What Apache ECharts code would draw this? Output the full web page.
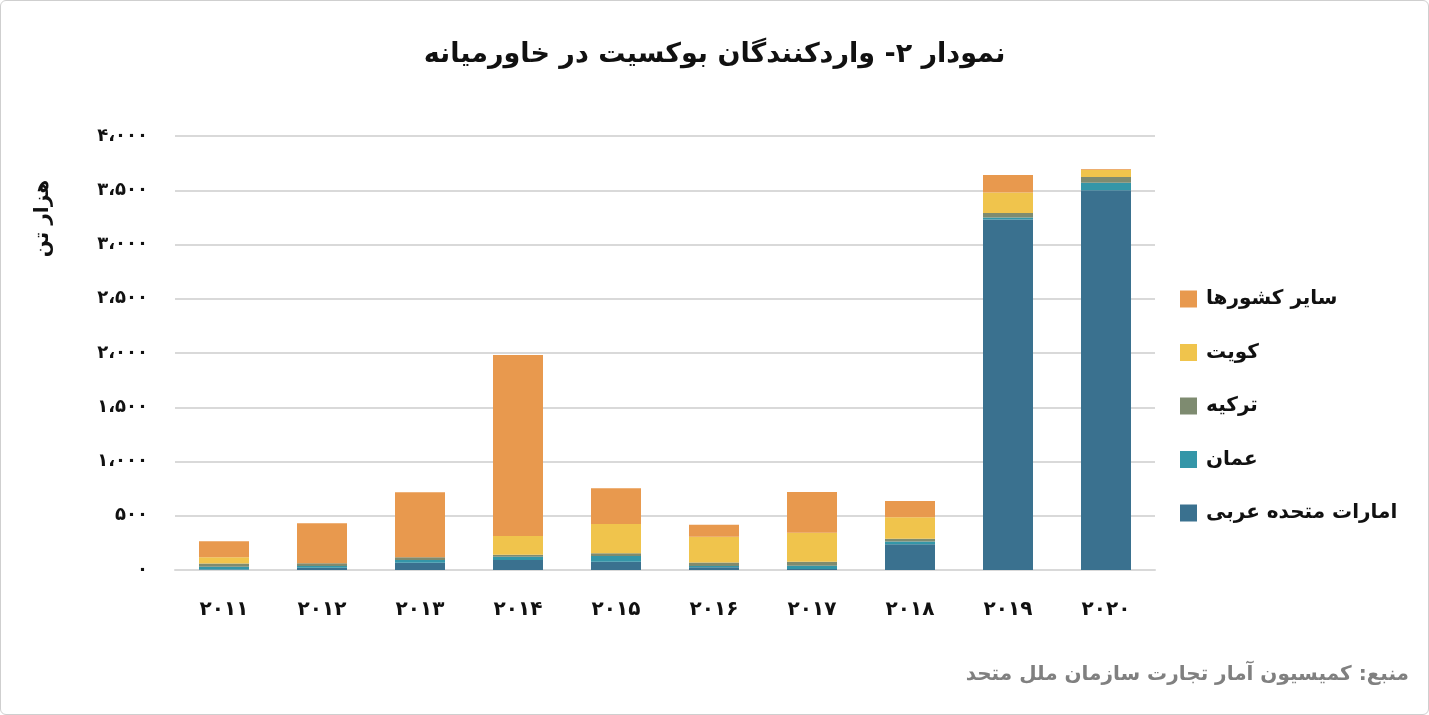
<!DOCTYPE html>
<html>
<head>
<meta charset="utf-8">
<script src="https://cdn.jsdelivr.net/npm/echarts@6/dist/echarts.min.js"></script>
<style>
html,body{margin:0;padding:0;background:#fff;}
#wrap{position:absolute;left:0;top:0;width:1427px;height:713px;border:1px solid #cfcfcf;border-radius:6px;}
#chart{width:1429px;height:715px;position:absolute;left:0;top:0;}
</style>
</head>
<body>
<div id="wrap"></div>
<div id="chart"></div>
<script>
const years = ['۲۰۱۱','۲۰۱۲','۲۰۱۳','۲۰۱۴','۲۰۱۵','۲۰۱۶','۲۰۱۷','۲۰۱۸','۲۰۱۹','۲۰۲۰'];
const yTickLabels = ['۰','۵۰۰','۱،۰۰۰','۱،۵۰۰','۲،۰۰۰','۲،۵۰۰','۳،۰۰۰','۳،۵۰۰','۴،۰۰۰'];
const uae    = [5, 20, 67, 92, 77, 25, 10, 237, 3230, 3500];
const oman   = [25, 17, 25, 30, 52, 12, 30, 25, 20, 68];
const turkey = [30, 25, 25, 19, 25, 31, 37, 27, 40, 55];
const kuwait = [58, 0, 0, 172, 270, 239, 267, 197, 190, 65];
const others = [148, 368, 599, 1669, 329, 111, 375, 150, 160, 8];
const names = ['امارات متحده عربی','عمان','ترکیه','کویت','سایر کشورها'];
const colors = ['#3A718F','#3496A8','#7E8B70','#F0C44C','#E8994E'];
const seriesData = [uae, oman, turkey, kuwait, others];

const FONT = "'DejaVu Sans', sans-serif";
const chart = echarts.init(document.getElementById('chart'), null, {renderer:'canvas'});
chart.setOption({
  backgroundColor: 'transparent',
  animation: false,
  title: {
    text: 'نمودار ۲- واردکنندگان بوکسیت در خاورمیانه',
    left: 'center', top: 36,
    textStyle: {fontFamily: FONT, fontSize: 27, fontWeight: 'bold', color: '#111'}
  },
  grid: {left: 175, right: 274, top: 136, bottom: 145},
  legend: {
    orient: 'vertical', left: 1175, top: 284, itemGap: 33.5,
    itemWidth: 17, itemHeight: 17, icon: 'rect',
    data: ['سایر کشورها','کویت','ترکیه','عمان','امارات متحده عربی'],
    textStyle: {fontFamily: FONT, fontSize: 20, fontWeight: 'bold', color: '#111', padding: [0,0,0,4]}
  },
  xAxis: {
    type: 'category', data: years,
    axisLine: {lineStyle: {color: '#d9d9d9', width: 2}},
    axisTick: {show: false},
    axisLabel: {fontFamily: FONT, fontSize: 20, fontWeight: 'bold', color: '#111', margin: 30}
  },
  yAxis: {
    type: 'value', min: 0, max: 4000, interval: 500,
    axisLine: {show: false}, axisTick: {show: false},
    splitLine: {lineStyle: {color: '#d9d9d9', width: 2}},
    axisLabel: {
      fontFamily: FONT, fontSize: 18, fontWeight: 'bold', color: '#111', margin: 27,
      formatter: v => yTickLabels[Math.round(v/500)]
    }
  },
  graphic: [
    {type:'text', left: 33, top: 180, rotation: Math.PI/2,
     style:{text:'هزار تن', font: "bold 20px 'DejaVu Sans', sans-serif", fill:'#111'}},
    {type:'text', right: 20, top: 665,
     style:{text:'منبع: کمیسیون آمار تجارت سازمان ملل متحد', font: "bold 20px 'DejaVu Sans', sans-serif", fill:'#808080'}}
  ],
  series: seriesData.map((d,i) => ({
    name: names[i], type: 'bar', stack: 'total', data: d, barWidth: 50,
    itemStyle: {color: colors[i]}
  }))
});
</script>
</body>
</html>
